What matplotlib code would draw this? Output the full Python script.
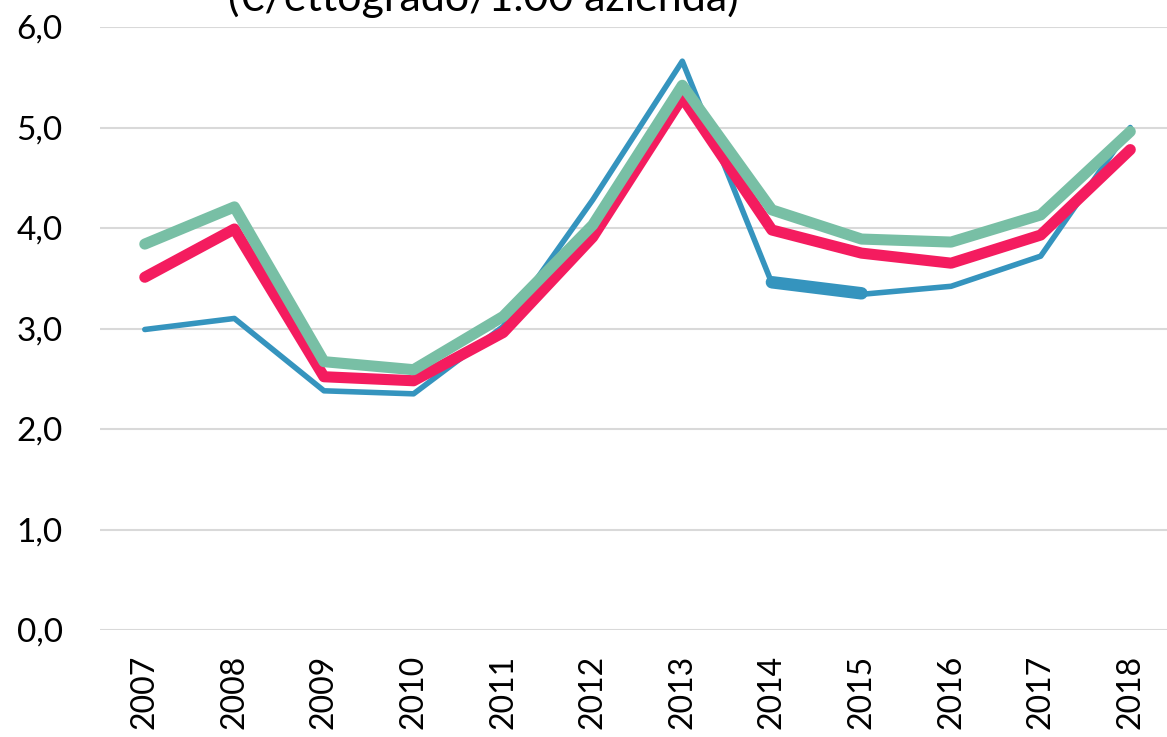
import matplotlib.pyplot as plt

plt.rcParams['font.family'] = ['Lato', 'DejaVu Sans']

years = ["2007", "2008", "2009", "2010", "2011", "2012",
         "2013", "2014", "2015", "2016", "2017", "2018"]
blue = [2.99, 3.10, 2.38, 2.35, 3.02, 4.28, 5.66, 3.45, 3.34, 3.42, 3.72, 5.00]
blue_thick = [None] * 7 + [3.46, 3.35] + [None] * 3
red = [3.51, 3.99, 2.52, 2.48, 2.96, 3.91, 5.30, 3.98, 3.75, 3.65, 3.93, 4.78]
green = [3.84, 4.21, 2.67, 2.59, 3.12, 4.03, 5.42, 4.18, 3.89, 3.86, 4.13, 4.96]
yticks = [0, 1, 2, 3, 4, 5, 6]

fig = plt.figure(figsize=(11.67, 7.37), dpi=100)
ax = fig.add_axes([100 / 1167, 107 / 737, 1067 / 1167, 603 / 737])

x = list(range(len(years)))
ax.plot(x, blue, color="#3594BE", linewidth=4, solid_capstyle='round', zorder=3)
bx = [i for i, v in zip(x, blue_thick) if v is not None]
by = [v for v in blue_thick if v is not None]
ax.plot(bx, by, color="#3594BE", linewidth=9, solid_capstyle='round', zorder=3)
ax.plot(x, red, color="#F41C5F", linewidth=8, solid_capstyle='round', zorder=4)
ax.plot(x, green, color="#78BFA5", linewidth=8, solid_capstyle='round', zorder=5)

ax.set_xlim(-0.5, 11.41)
ax.set_ylim(0, 6)
ax.set_yticks(yticks)
ax.set_yticklabels([f"{v},0" for v in yticks], fontsize=24)
ax.set_xticks(x)
ax.set_xticklabels(years, rotation=90, fontsize=23)
ax.tick_params(length=0)
ax.tick_params(axis='x', pad=18)
ax.tick_params(axis='y', pad=27)
ax.grid(axis='y', color="#D9D9D9", linewidth=1.5)
ax.set_axisbelow(True)
for s in ax.spines.values():
    s.set_visible(False)

fig.text(483 / 1167, 1 - 11 / 737, "(€/ettogrado/1.00 azienda)",
         ha='center', va='baseline', fontsize=31)

fig.savefig("out.png", dpi=100)
